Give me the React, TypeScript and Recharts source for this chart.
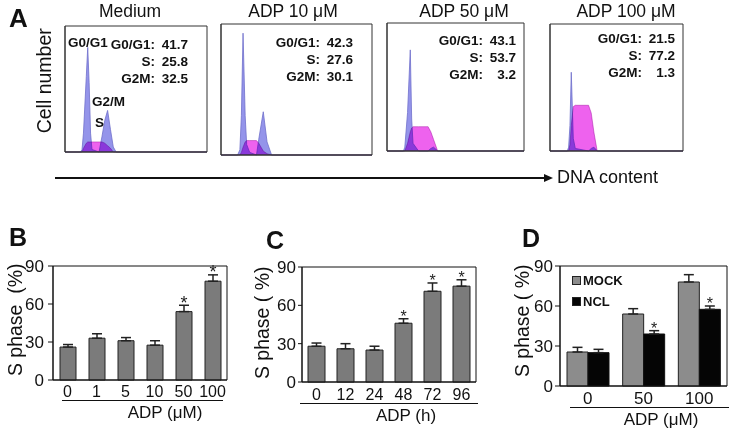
import React from 'react';
import {
  AreaChart, Area, BarChart, Bar, XAxis, YAxis, ReferenceArea, ErrorBar, LabelList, Legend,
} from 'recharts';

// Panel A histograms: x = % along DNA axis, y = % of panel height
const medX = [0, 11, 12, 13, 15, 16, 17, 18, 19, 24, 26, 28, 30, 32, 34, 36, 100];
const medBlue = [0, 0, 2, 15, 60, 83, 55, 15, 2, 0, 12, 25, 33, 18, 4, 0, 0];
const medS = [0, 0, 0, 3, 7, 8, 8, 8, 8, 8, 8, 7, 5, 3, 0, 0, 0];

const a10X = [0, 11, 12.5, 13.5, 14.6, 16, 17, 19, 23.5, 25, 28, 30.5, 33.5, 100];
const a10Blue = [0, 0, 4, 30, 93, 30, 8, 2, 0, 12, 33, 10, 0, 0];
const a10S = [0, 0, 0, 2, 6, 10, 11, 11, 11, 9, 3, 1, 0, 0];

const a50X = [0, 12, 13, 15, 17, 18, 19, 23, 30, 32, 34, 35, 37, 100];
const a50Blue = [0, 0, 3, 30, 79, 25, 6, 0, 0, 2, 3, 2, 0, 0];
const a50S = [0, 0, 0, 6, 15, 18, 19, 19, 19, 15, 9, 6, 0, 0];

const a100X = [0, 13, 14, 15, 16, 17.5, 19, 29, 31, 33, 35.5, 100];
const a100Blue = [0, 0, 3, 20, 62, 10, 2, 0, 2, 3, 0, 0];
const a100S = [0, 0, 0, 5, 20, 35, 36, 36, 30, 15, 0, 0];

const histTicksX = [0, 11.1, 22.2, 33.3, 44.4, 55.6, 66.7, 77.8, 88.9, 100];
const histTicksY = [0, 16.7, 33.3, 50, 66.7, 83.3, 100];

// Panel B
const bCats = ['0', '1', '5', '10', '50', '100'];
const bVals = [26, 33, 31, 27.5, 54, 78];
const bErrs = [2, 3.5, 2.5, 3.5, 5, 5];
const bStars = [false, false, false, false, true, true];

// Panel C
const cCats = ['0', '12', '24', '48', '72', '96'];
const cVals = [28, 26, 25, 46, 71, 75];
const cErrs = [2.5, 4, 3, 3.5, 6.5, 5];
const cStars = [false, false, false, true, true, true];

// Panel D
const dCats = ['0', '50', '100'];
const dMock = [25.5, 54, 78];
const dMockErr = [3.5, 4, 5.5];
const dNcl = [25, 39, 57.5];
const dNclErr = [2.5, 2.5, 2.5];
const dNclStars = [false, true, true];

const yTicks = [0, 30, 60, 90];

const font = 'Arial, "Liberation Sans", Helvetica, sans-serif';

const abs = (left: number, top: number, extra: React.CSSProperties = {}): React.CSSProperties => ({
  position: 'absolute', left, top, ...extra,
});

const starLabel = (pxPerUnit: number, size: number) => (props: any) => {
  const { x, y, width, value } = props;
  if (value == null) return null;
  return (
    <text x={x + width / 2} y={y - value * pxPerUnit + size * 0.18} textAnchor="middle"
      fontSize={size} fontFamily={font} fill="#222">*</text>
  );
};

interface HistProps {
  title: string;
  titleX: number;
  left: number; top: number; width: number; height: number;
  xs: number[]; blue: number[]; mag: number[];
  stats: [string, string][];
  statsRight: number; statsTop: number;
}

const HistPanel = ({ title, titleX, left, top, width, height, xs, blue, mag, stats, statsRight, statsTop }: HistProps) => {
  const data = xs.map((x, i) => ({ x, blue: blue[i], mag: mag[i] }));
  return (
    <>
      <div style={abs(titleX - 60, 1, { width: 120, textAlign: 'center', fontSize: 17.5 })}>{title}</div>
      <div style={abs(left - 8, top - 1)}>
        <AreaChart width={width + 10} height={height + 8} data={data} margin={{ top: 1, right: 2, left: 0, bottom: 0 }}>
          <XAxis dataKey="x" type="number" domain={[0, 100]} ticks={histTicksX} tick={false}
            tickSize={3} height={7} axisLine={{ stroke: '#333' }} tickLine={{ stroke: '#aaa' }} />
          <YAxis type="number" domain={[0, 100]} ticks={histTicksY} tick={false}
            tickSize={3} width={8} axisLine={{ stroke: '#333' }} tickLine={{ stroke: '#aaa' }} />
          <Area dataKey="blue" type="linear" fill="#9494ea" fillOpacity={1} stroke="#7070cc"
            strokeWidth={0.8} isAnimationActive={false} />
          <Area dataKey="mag" className="mag" type="linear" fill="#ee62ee" fillOpacity={1}
            stroke="#b84cb8" strokeWidth={0.6} isAnimationActive={false} />
          <ReferenceArea x1={0} x2={100} y1={0} y2={100} fill="none" stroke="#333" strokeWidth={1} />
        </AreaChart>
      </div>
      <div style={{ position: 'absolute', right: 735 - (left + width) + statsRight, top: top + statsTop,
        fontWeight: 'bold', fontSize: 13.5, lineHeight: '17px' }}>
        {stats.map(([k, v]) => (
          <div key={k} style={{ display: 'flex', justifyContent: 'flex-end' }}>
            <span>{k}</span>
            <span style={{ width: 33, textAlign: 'right' }}>{v}</span>
          </div>
        ))}
      </div>
    </>
  );
};

const RotLabel = ({ cx, cy, text, size }: { cx: number; cy: number; text: string; size: number }) => (
  <div style={abs(cx - 100, cy - size / 2, {
    width: 200, height: size, lineHeight: `${size}px`, textAlign: 'center', fontSize: size,
    transform: 'rotate(-90deg)', whiteSpace: 'pre',
  })}>{text}</div>
);

const Underline = ({ x1, x2, y }: { x1: number; x2: number; y: number }) => (
  <div style={abs(x1, y, { width: x2 - x1, height: 0, borderTop: '1.5px solid #111' })} />
);

const AxisTitle = ({ cx, cy, text }: { cx: number; cy: number; text: string }) => (
  <div style={abs(cx - 80, cy - 10, { width: 160, textAlign: 'center', fontSize: 17, lineHeight: '20px' })}>{text}</div>
);

const tickStyle = { fontSize: 17, fill: '#111', fontFamily: font };

const LegendBox = (props: any) => (
  <div style={{ fontFamily: font, fontWeight: 'bold', fontSize: 13 }}>
    {(props.payload || []).map((p: any) => (
      <div key={p.value} style={{ display: 'flex', alignItems: 'center', height: 21 }}>
        <span style={{ width: 7, height: 7, background: p.color, border: '1px solid #222', marginRight: 2 }} />
        {p.value}
      </div>
    ))}
  </div>
);

const App = () => {
  const bData = bCats.map((c, i) => ({ cat: c, v: bVals[i], err: [0, bErrs[i]], star: bStars[i] ? bErrs[i] : null }));
  const cData = cCats.map((c, i) => ({ cat: c, v: cVals[i], err: [0, cErrs[i]], star: cStars[i] ? cErrs[i] : null }));
  const dData = dCats.map((c, i) => ({
    cat: c, MOCK: dMock[i], mockErr: [0, dMockErr[i]], NCL: dNcl[i], nclErr: [0, dNclErr[i]],
    star: dNclStars[i] ? dNclErr[i] : null,
  }));

  return (
    <div style={{ position: 'absolute', left: 0, top: 0, width: 735, height: 433, background: '#fff',
      fontFamily: font, color: '#111', overflow: 'hidden' }}>
      <style>{'.mag path { mix-blend-mode: multiply; }'}</style>

      {/* A: histograms */}
      <div style={abs(9, 3, { fontSize: 26, fontWeight: 'bold' })}>A</div>
      <RotLabel cx={45} cy={81} text="Cell number" size={19.5} />
      <HistPanel title="Medium" titleX={130} left={65} top={26} width={142} height={126}
        xs={medX} blue={medBlue} mag={medS}
        stats={[['G0/G1:', '41.7'], ['S:', '25.8'], ['G2M:', '32.5']]} statsRight={19} statsTop={10} />
      <HistPanel title="ADP 10 μM" titleX={293} left={221} top={24} width={151} height={131}
        xs={a10X} blue={a10Blue} mag={a10S}
        stats={[['G0/G1:', '42.3'], ['S:', '27.6'], ['G2M:', '30.1']]} statsRight={19} statsTop={10} />
      <HistPanel title="ADP 50 μM" titleX={464} left={387} top={23} width={137} height={128}
        xs={a50X} blue={a50Blue} mag={a50S}
        stats={[['G0/G1:', '43.1'], ['S:', '53.7'], ['G2M:', '3.2']]} statsRight={8} statsTop={9} />
      <HistPanel title="ADP 100 μM" titleX={626} left={550} top={24} width={133} height={127}
        xs={a100X} blue={a100Blue} mag={a100S}
        stats={[['G0/G1:', '21.5'], ['S:', '77.2'], ['G2M:', '1.3']]} statsRight={8} statsTop={6} />
      <div style={abs(68, 35, { fontSize: 13.5, fontWeight: 'bold', lineHeight: '16px' })}>G0/G1</div>
      <div style={abs(92, 94, { fontSize: 13.5, fontWeight: 'bold', lineHeight: '16px' })}>G2/M</div>
      <div style={abs(95, 115, { fontSize: 13.5, fontWeight: 'bold', lineHeight: '16px' })}>S</div>

      <svg style={abs(50, 170)} width={510} height={16}>
        <line x1={5} y1={8} x2={496} y2={8} stroke="#111" strokeWidth={2} />
        <polygon points="494,4 503,8 494,12" fill="#111" />
      </svg>
      <div style={abs(557, 167, { fontSize: 18, lineHeight: '20px' })}>DNA content</div>

      {/* B */}
      <div style={abs(9, 223, { fontSize: 25, fontWeight: 'bold' })}>B</div>
      <RotLabel cx={16} cy={320} text="S phase  (%)" size={19.5} />
      <div style={abs(0, 200)}>
        <BarChart width={240} height={233} data={bData} margin={{ top: 66, right: 13, left: 0, bottom: 23 }} barSize={16}>
          <XAxis dataKey="cat" tickLine={false} tickSize={0} tickMargin={6} height={30}
            axisLine={{ stroke: '#111' }} tick={{ ...tickStyle, fontSize: 16 }} interval={0} />
          <YAxis domain={[0, 90]} ticks={yTicks} width={53} tickSize={5} tickMargin={4}
            axisLine={{ stroke: '#111' }} tickLine={{ stroke: '#111' }} tick={tickStyle} />
          <ReferenceArea y1={0} y2={90} fill="none" stroke="#111" strokeWidth={1} />
          <Bar dataKey="v" fill="#7b7b7b" stroke="#222" strokeWidth={1} isAnimationActive={false}>
            <ErrorBar dataKey="err" width={5} stroke="#222" strokeWidth={1.5} direction="y" />
            <LabelList dataKey="star" content={starLabel(114 / 90, 18)} />
          </Bar>
        </BarChart>
      </div>
      <Underline x1={62} x2={223} y={400} />
      <AxisTitle cx={165} cy={413} text="ADP (μM)" />

      {/* C */}
      <div style={abs(266, 226, { fontSize: 25, fontWeight: 'bold' })}>C</div>
      <RotLabel cx={263} cy={323} text="S phase ( %)" size={19.5} />
      <div style={abs(240, 200)}>
        <BarChart width={245} height={233} data={cData} margin={{ top: 67, right: 9, left: 0, bottom: 21 }} barSize={17}>
          <XAxis dataKey="cat" tickLine={false} tickSize={0} tickMargin={7} height={30}
            axisLine={{ stroke: '#111' }} tick={{ ...tickStyle, fontSize: 16 }} interval={0} />
          <YAxis domain={[0, 90]} ticks={yTicks} width={62} tickSize={4} tickMargin={2}
            axisLine={{ stroke: '#111' }} tickLine={{ stroke: '#111' }} tick={tickStyle} />
          <ReferenceArea y1={0} y2={90} fill="none" stroke="#111" strokeWidth={1} />
          <Bar dataKey="v" fill="#7b7b7b" stroke="#222" strokeWidth={1} isAnimationActive={false}>
            <ErrorBar dataKey="err" width={5} stroke="#222" strokeWidth={1.5} direction="y" />
            <LabelList dataKey="star" content={starLabel(115 / 90, 16)} />
          </Bar>
        </BarChart>
      </div>
      <Underline x1={300} x2={478} y={403} />
      <AxisTitle cx={406} cy={416} text="ADP (h)" />

      {/* D */}
      <div style={abs(522, 224, { fontSize: 25, fontWeight: 'bold' })}>D</div>
      <RotLabel cx={523} cy={321} text="S phase ( %)" size={19.5} />
      <div style={abs(480, 200)}>
        <BarChart width={255} height={233} data={dData} margin={{ top: 66, right: 8, left: 0, bottom: 17 }}
          barSize={21} barGap={0}>
          <XAxis dataKey="cat" tickLine={false} tickSize={0} tickMargin={6} height={30}
            axisLine={{ stroke: '#111' }} tick={{ ...tickStyle, fontSize: 17 }} interval={0} />
          <YAxis domain={[0, 90]} ticks={yTicks} width={80} tickSize={5} tickMargin={2}
            axisLine={{ stroke: '#111' }} tickLine={{ stroke: '#111' }} tick={tickStyle} />
          <ReferenceArea y1={0} y2={90} fill="none" stroke="#111" strokeWidth={1} />
          <Legend layout="vertical" align="center" verticalAlign="middle" content={LegendBox}
            wrapperStyle={{ left: 92, top: 70, width: 80, height: 44 }} />
          <Bar dataKey="MOCK" fill="#8c8c8c" stroke="#222" strokeWidth={1} isAnimationActive={false}>
            <ErrorBar dataKey="mockErr" width={5} stroke="#222" strokeWidth={1.5} direction="y" />
          </Bar>
          <Bar dataKey="NCL" fill="#050505" stroke="#111" strokeWidth={1} isAnimationActive={false}>
            <ErrorBar dataKey="nclErr" width={5} stroke="#222" strokeWidth={1.5} direction="y" />
            <LabelList dataKey="star" content={starLabel(120 / 90, 16)} />
          </Bar>
        </BarChart>
      </div>
      <Underline x1={570} x2={729} y={407} />
      <AxisTitle cx={661} cy={420} text="ADP (μM)" />
    </div>
  );
};

export default App;
